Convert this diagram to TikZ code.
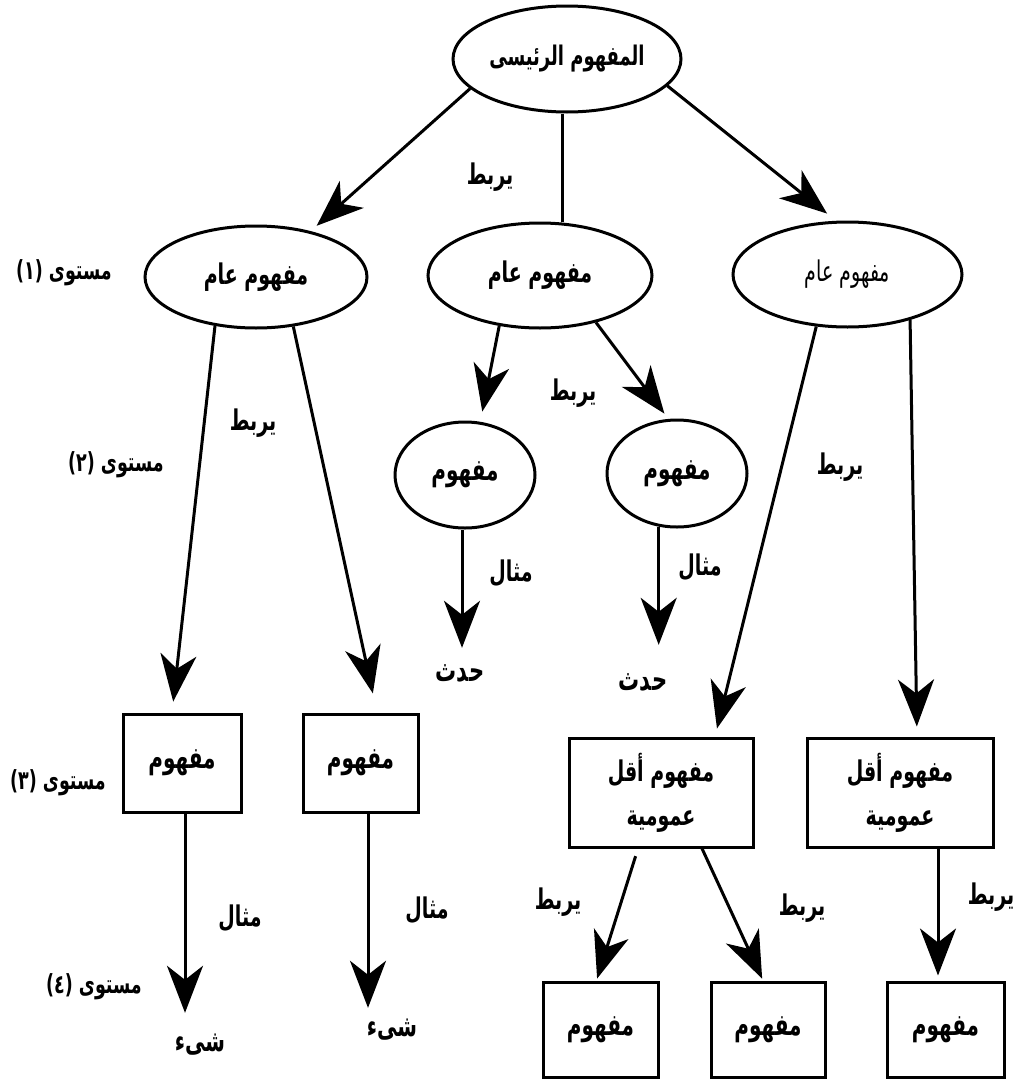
\documentclass[tikz,border=0pt]{standalone}
\usepackage{fontspec}
\usetikzlibrary{shapes.geometric,arrows.meta}
\TeXXeTstate=1
\newfontfamily\arfont[Script=Arabic]{DejaVu Sans}
% Arabic text runs right to left; the letters are set a little taller
\newcommand{\artxt}[1]{\scalebox{1}[1.5]{\beginR #1\endR}}

\tikzset{
  every node/.style={inner sep=0pt},
  concept/.style={ellipse, draw, line width=3pt,
    font=\arfont\bfseries\fontsize{19}{24}\selectfont},
  conceptbox/.style={rectangle, draw, line width=3pt, align=center,
    font=\arfont\bfseries\fontsize{20}{44}\selectfont},
  linklabel/.style={font=\arfont\bfseries\fontsize{19}{22}\selectfont},
  levellabel/.style={font=\arfont\bfseries\fontsize{17.5}{20}\selectfont},
  leaf/.style={font=\arfont\bfseries\fontsize{21}{24}\selectfont, minimum height=40pt},
  link/.style={line width=3pt},
  arrowlink/.style={line width=3pt, -{Stealth[length=47pt,width=36pt,inset=14pt]}}
}

\begin{document}
\begin{tikzpicture}[x=1pt,y=-1pt]
\fill[white] (0,0) rectangle (1027,1079);
\useasboundingbox (0,0) rectangle (1027,1079);

% main concept
\node[concept, minimum width=228pt, minimum height=106pt, font=\arfont\bfseries\fontsize{18}{24}\selectfont] (top) at (567,59) {\artxt{المفهوم الرئيسى}};

% level 1: general concepts
\node[concept, minimum width=222pt, minimum height=102pt] (l1) at (256,277) {\artxt{مفهوم عام}};
\node[concept, minimum width=224pt, minimum height=105pt] (m1) at (540,275.5) {\artxt{مفهوم عام}};
\node[concept, minimum width=229pt, minimum height=105pt, font=\arfont\fontsize{19}{24}\selectfont] (r1) at (847.5,274.5) {\artxt{مفهوم عام}};

% level 2: concepts under the middle branch
\node[concept, minimum width=140pt, minimum height=106pt, font=\arfont\bfseries\fontsize{20}{24}\selectfont] (mL) at (465,475) {\artxt{مفهوم}};
\node[concept, minimum width=140pt, minimum height=107pt, font=\arfont\bfseries\fontsize{20}{24}\selectfont] (mR) at (677,473.5) {\artxt{مفهوم}};
\node[leaf] (t1) at (460,673) {\artxt{حدث}};
\node[leaf] (t2) at (643,682) {\artxt{حدث}};

% level 3: boxes
\node[conceptbox, minimum width=118pt, minimum height=98pt] (b1) at (182,763) {\artxt{مفهوم}};
\node[conceptbox, minimum width=115pt, minimum height=98pt] (b2) at (360.5,763) {\artxt{مفهوم}};
\node[conceptbox, minimum width=184pt, minimum height=109pt, font=\arfont\bfseries\fontsize{19}{44}\selectfont] (bA) at (661,792.5) {\artxt{مفهوم أقل}\\\artxt{عمومية}};
\node[conceptbox, minimum width=186pt, minimum height=109pt, font=\arfont\bfseries\fontsize{19}{44}\selectfont] (bB) at (900,792.5) {\artxt{مفهوم أقل}\\\artxt{عمومية}};

% level 4
\node[leaf, font=\arfont\bfseries\fontsize{20}{24}\selectfont] (s1) at (200,1045) {\artxt{شىء}};
\node[leaf, font=\arfont\bfseries\fontsize{20}{24}\selectfont] (s2) at (392,1030) {\artxt{شىء}};
\node[conceptbox, minimum width=115pt, minimum height=95pt] (c1) at (600.5,1029.5) {\artxt{مفهوم}};
\node[conceptbox, minimum width=114pt, minimum height=95pt] (c2) at (768,1029.5) {\artxt{مفهوم}};
\node[conceptbox, minimum width=117pt, minimum height=95pt] (c3) at (945.5,1029.5) {\artxt{مفهوم}};

% level names
\node[levellabel] (lev1) at (64,273) {\artxt{مستوى (١)}};
\node[levellabel] (lev2) at (116,465) {\artxt{مستوى (٢)}};
\node[levellabel] (lev3) at (58,783) {\artxt{مستوى (٣)}};
\node[levellabel] (lev4) at (94,987) {\artxt{مستوى (٤)}};

% link words
\node[linklabel] (k1) at (490,177) {\artxt{يربط}};
\node[linklabel] (k2) at (253,423) {\artxt{يربط}};
\node[linklabel] (k3) at (573,393) {\artxt{يربط}};
\node[linklabel] (k4) at (840,467) {\artxt{يربط}};
\node[linklabel] (k5) at (558,902) {\artxt{يربط}};
\node[linklabel] (k6) at (802,908) {\artxt{يربط}};
\node[linklabel] (k7) at (991,897) {\artxt{يربط}};
\node[linklabel] (e1) at (511,573) {\artxt{مثال}};
\node[linklabel] (e2) at (700,567) {\artxt{مثال}};
\node[linklabel] (e3) at (240,918) {\artxt{مثال}};
\node[linklabel] (e4) at (427,910) {\artxt{مثال}};

% connectors from the main concept
\draw[arrowlink, shorten >=8pt] (top.197) -- (l1.40);
\draw[link] ([xshift=-5pt]top.south) -- ([xshift=-5pt]top.south |- m1.north);
\draw[arrowlink, shorten >=11.5pt] (top.345) -- (r1.102);

% left branch
\draw[arrowlink, shorten >=11pt] (l1.230) -- ([xshift=-10pt]b1.north);
\draw[arrowlink, shorten >=19.5pt] (l1.307) -- ([xshift=16.5pt]b2.north);
\draw[arrowlink, shorten >=12pt] ([xshift=3pt]b1.south) -- ([xshift=3pt]b1.south |- s1.north);
\draw[arrowlink, shorten >=2pt] ([xshift=7.5pt]b2.south) -- ([xshift=7.5pt]b2.south |- s2.north);

% middle branch
\draw[arrowlink, shorten >=10.4pt] (m1.231) -- (mL.74);
\draw[arrowlink, shorten >=6.6pt] (m1.320) -- (mR.99);
\draw[arrowlink, shorten >=5pt] ([xshift=-3pt]mL.south) -- ([xshift=-3pt]mL.south |- t1.north);
\draw[arrowlink, shorten >=17pt] (mR.251) -- (mR.251 |- t2.north);

% right branch
\draw[arrowlink, shorten >=8.2pt] (r1.239) -- ([xshift=54pt]bA.north);
\draw[arrowlink, shorten >=10pt] (r1.324) -- ([xshift=17pt]bB.north);
\draw[arrowlink, shorten <=8pt, shorten >=2pt] ([xshift=-23pt]bA.south) -- ([xshift=-4pt]c1.north);
\draw[arrowlink, shorten >=2pt] ([xshift=41pt]bA.south) -- ([xshift=-5pt]c2.north);
\draw[arrowlink, shorten >=5pt] ([xshift=38pt]bB.south) -- ([xshift=38pt]bB.south |- c3.north);
\end{tikzpicture}
\end{document}
